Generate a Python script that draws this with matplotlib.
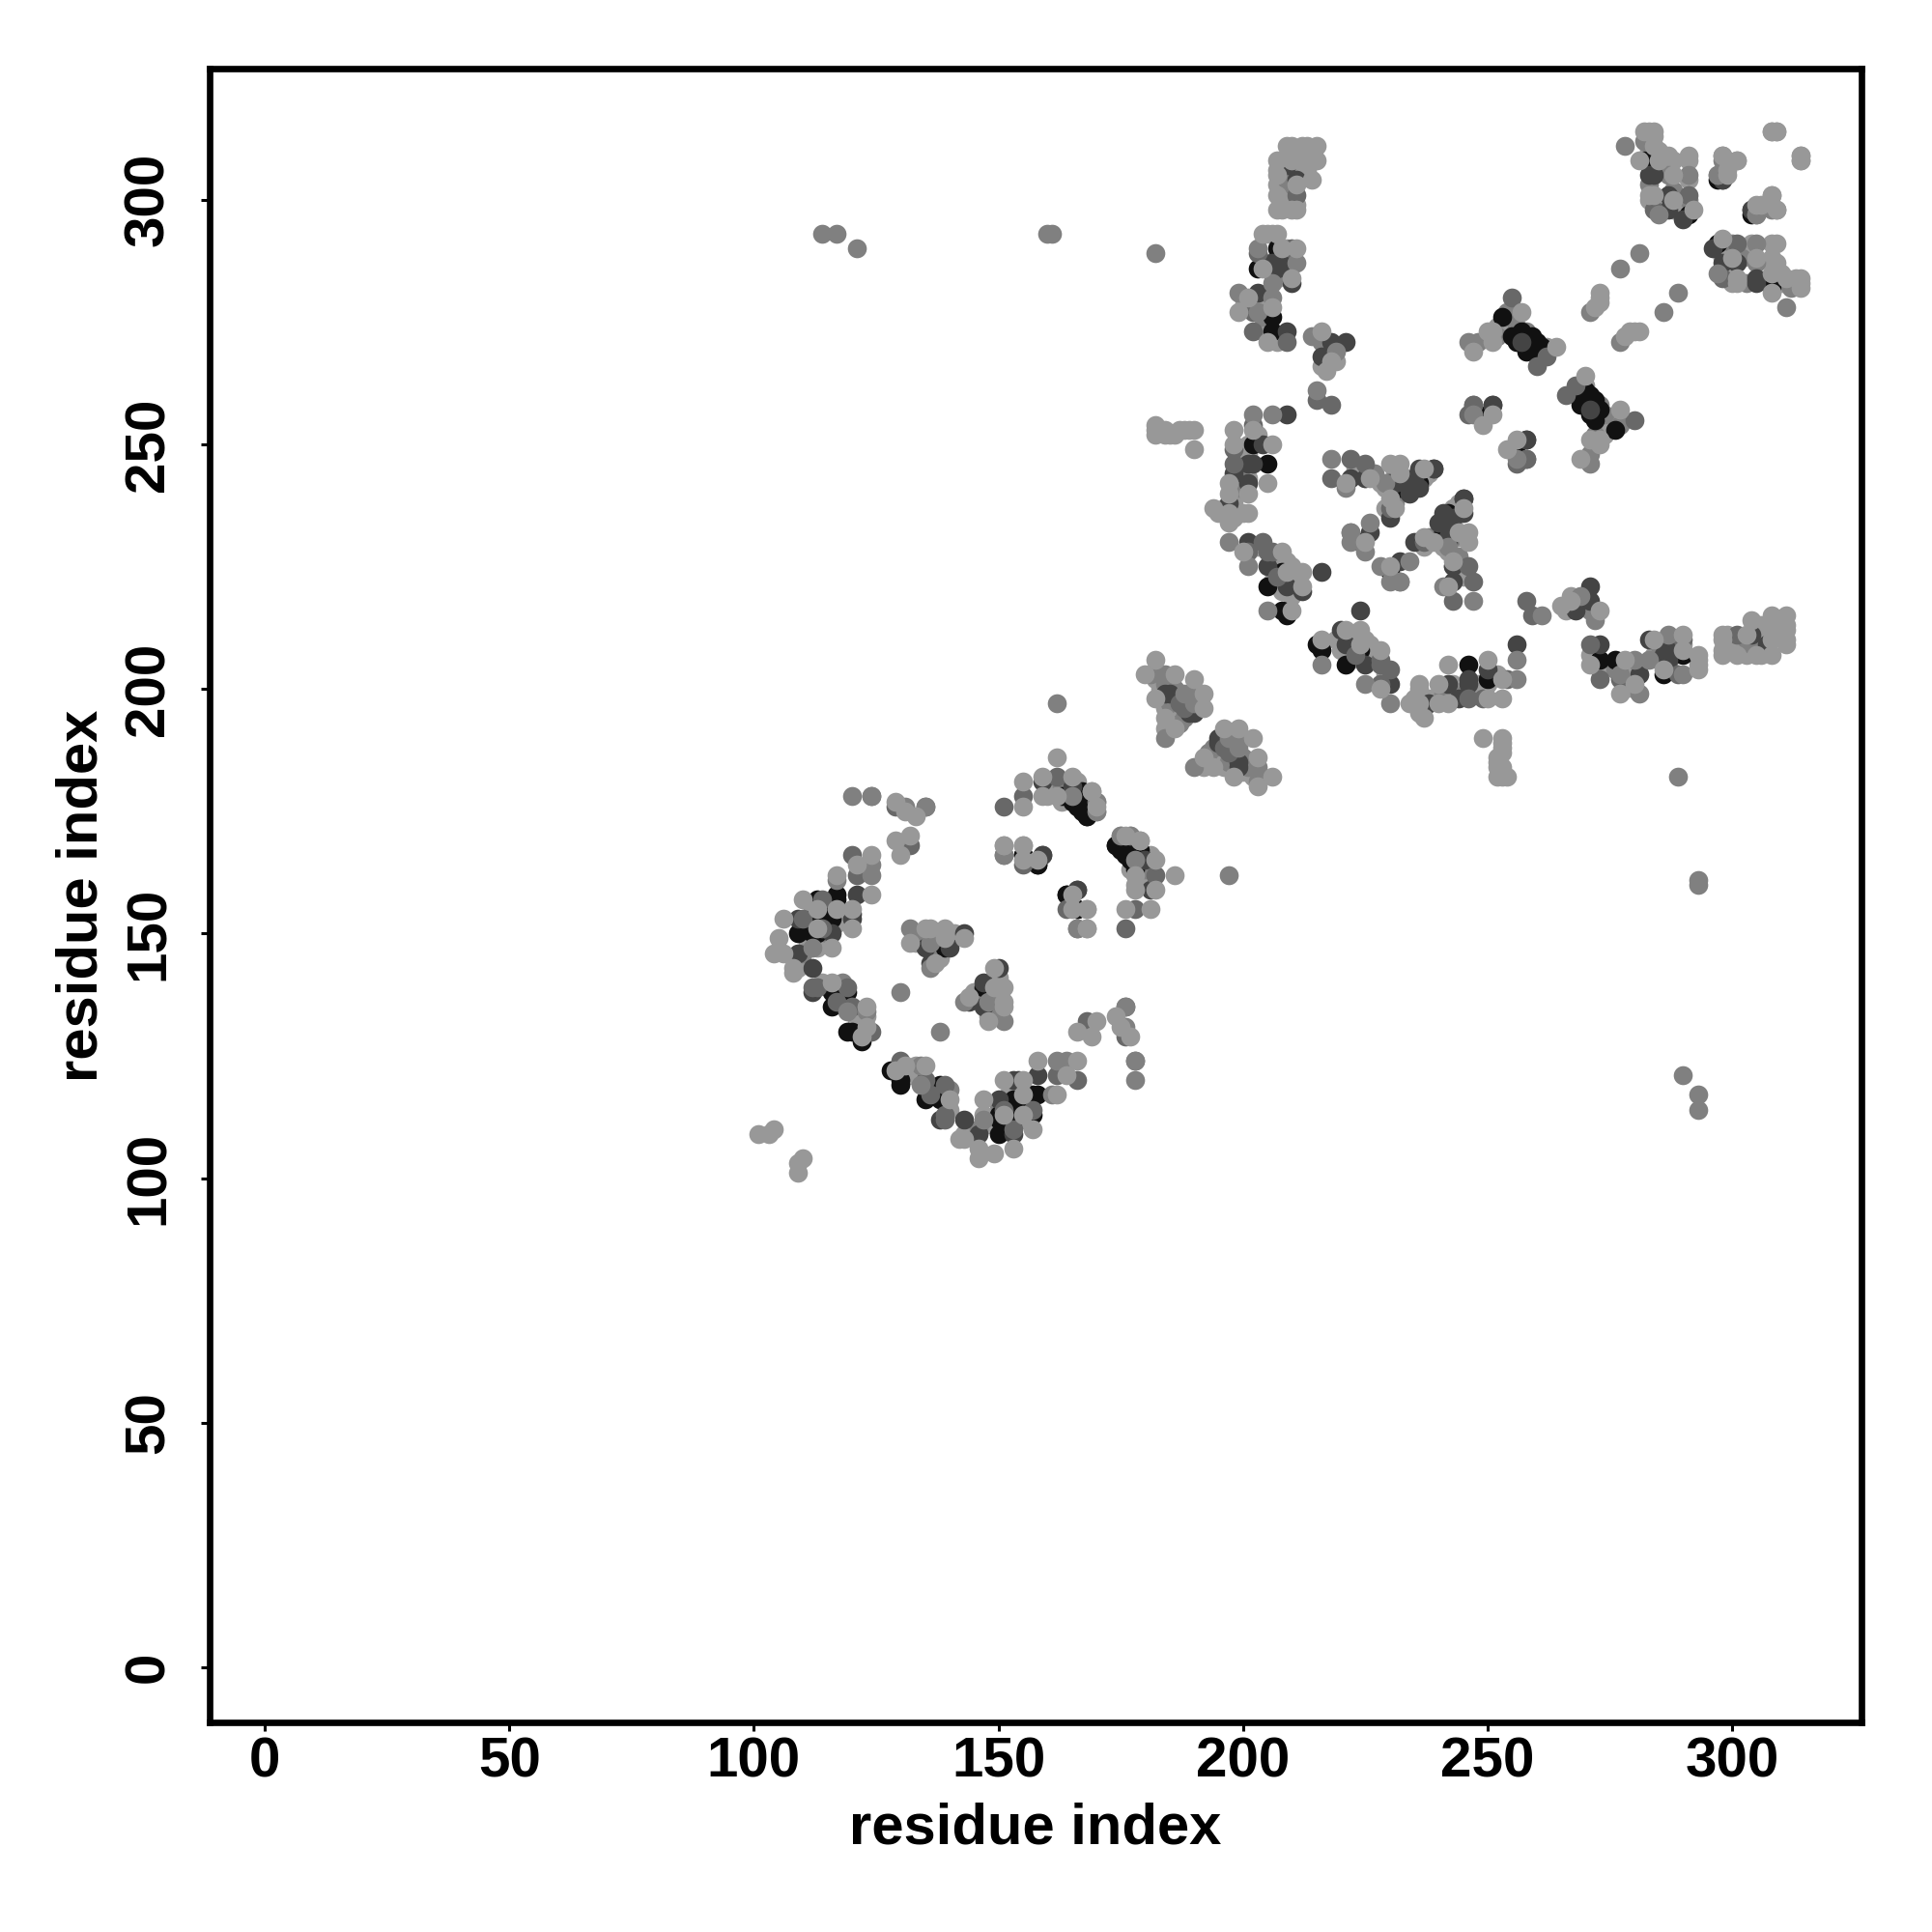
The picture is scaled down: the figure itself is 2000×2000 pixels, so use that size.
import matplotlib
matplotlib.use("Agg")
import matplotlib.pyplot as plt

# contacts (residue i, residue j); the map is symmetric, each pair is drawn on both sides
under_light_pairs = [(283,314),(284,313),(283,312),(287,308),(288,308),(291,308),(291,304),(288,298),(283,300),(285,299),(285,310),(283,310),
    (209,311),(213,311),(211,309),(213,309),(214,308),(211,307),(212,306),(213,306),(209,301),(211,299),(208,298),(207,303),(207,306),
    (205,293),(206,293),(209,289),(210,287),(208,286),(209,290),(207,284),(206,285),(200,280),(200,278),(203,279),(207,271),(208,272),(204,273),
    (196,237),(195,236),(198,240),(198,238),(200,236),(198,235),(199,245),(200,246),(201,250),(203,252),(201,248),(201,243),
    (183,203),(182,202),(183,200),(185,201),(187,199),(184,197),(185,195),(186,195),(190,199),(191,198),(184,196),(186,194),(184,192),
    (112,155),(114,155),(115,152),(117,152),(113,147),(111,148),(110,144),(109,143),(114,140),(117,139),(121,132),(123,133),(123,130),
    (137,150),(141,150),(133,148),(138,145),(166,181),(166,179),(168,178),(169,177),(163,180),
    (175,170),(177,170),(178,169),(179,164),(181,162),(177,163),(178,160),(180,161),
    (232,246),(234,243),(235,243),(237,243),(238,244),(231,245),(229,241),(230,240),(229,237),
    (238,230),(241,229),(244,231),(244,238),(242,228),(243,225),(245,223),
    (203,229),(206,226),(209,226),(210,225),(211,223),(206,222),(208,220),(210,219),
    (254,275),(255,274),(252,274),(253,274),(262,270),(218,269),(219,267),(218,270),(216,266),
    (183,253),(184,253),(186,252),(188,253),(189,253),(182,253),(184,252)]
under_mid_pairs = [(115,150),(110,146),(118,140),(134,150),(138,147),(164,181),(164,179),(167,176),(169,175),
    (177,168),(178,166),(180,163),(209,304),(210,303),(205,287),(209,285),(204,276),(199,243),(199,241),
    (184,201),(186,200),(186,198),(185,197),(189,199),(187,193),(188,194),(231,243),(231,238),(244,227),(241,221),
    (254,277),(256,274),(258,273),(252,272),(217,270),(216,271),(283,303),(287,305),(288,302),(291,300)]
black_pairs = [(117,157),(117,158),(113,157),(116,154),(112,153),(112,150),(109,150),(116,138),(119,138),(116,135),
    (119,130),(120,130),(122,128),(139,147),(163,178),(167,179),(166,176),(168,174),(168,176),(155,166),(158,164),
    (164,158),(166,155),(174,168),(175,167),(177,165),(179,166),(178,168),(113,150),(116,153),(113,153),
    (207,290),(203,286),(206,276),(206,273),(202,250),(205,246),(232,241),(234,241),(236,242),(224,230),
    (205,221),(208,224),(208,216),(209,215),(253,276),(255,272),(259,272),(258,269),(261,270),(261,268),
    (249,255),(250,256),(282,308),(291,297),(297,304),(241,232),(257,273),(256,271),(260,271),(259,270),(260,269)]
dark_pairs = [(121,158),(120,153),(109,153),(116,150),(109,146),(112,143),(112,138),(143,150),(135,147),(140,147),
    (165,180),(159,181),(159,166),(166,159),(120,154),(136,144),
    (209,307),(211,304),(207,286),(210,283),(209,256),(204,250),(202,246),(201,246),(201,242),(198,244),(222,243),
    (225,243),(230,242),(239,245),(226,232),(230,235),(236,241),(234,240),(236,245),(245,239),(201,230),(205,225),
    (209,221),(212,220),(216,224),(197,238),(221,271),(218,271),(216,268),(257,271),(251,258),(258,251),
    (189,195),(190,195),(184,199),(185,199),(283,305),(284,305),(287,301),(287,298),(290,296),(298,304),(304,298),(203,281),
    (209,273),(206,287),(205,286),(209,287),(233,242),(235,241),(242,233),(243,235),(242,231)]
dim_pairs = [(120,166),(121,162),(135,176),(119,139),(120,135),(124,130),(151,176),(151,166),(132,168),(129,176),
    (112,139),(114,157),(110,153),(155,178),(162,182),(155,164),
    (211,301),(202,254),(198,249),(198,246),(225,246),(218,243),(222,247),(215,259),(218,258),(209,271),(204,230),
    (201,228),(247,258),(258,247),(255,280),(260,266),(262,268),(246,256),(284,298),(291,301),
    (178,124),(230,237),(205,228),(202,277),(202,273),(114,151),(113,139),(117,136),(210,290),(203,289),(206,228),(207,223),
    (187,197),(188,196),(188,197)]
mid_pairs = [(120,178),(124,178),(131,176),(112,147),(124,164),(123,134),(119,134),(132,151),(136,148),(136,143),
    (130,138),(165,178),(166,151),(176,135),(170,177),(124,162),(117,161),(170,175),
    (203,290),(211,287),(206,283),(206,280),(199,281),(203,277),(214,272),(219,269),(215,261),(206,256),(202,256),
    (218,247),(197,230),(201,225),(205,216),(222,232),(222,230),(226,234),(228,225),(248,271),(246,271),
    (182,289),(281,289),(277,286),(271,277),(278,311),(282,312),(291,305),(298,309),(297,305),(285,297),(305,297),(308,298),
    (181,203),(184,203),(188,199),(190,197),(184,190),(114,293),(117,293),(121,290),(160,293),(161,293),(162,197),
    (256,247),(229,242),(232,222)]
light_pairs = [(129,177),(133,174),(132,170),(129,169),(130,166),(131,175),(124,166),(121,164),(117,162),(124,158),
    (110,157),(120,155),(117,155),(113,155),(106,153),(113,151),(120,151),(105,149),(116,147),(104,146),(106,146),
    (108,143),(108,142),(116,140),(123,135),(123,131),(122,129),(132,148),(136,151),(135,151),(139,151),(143,149),
    (139,149),(137,144),(155,181),(155,176),(159,182),(159,178),(162,186),(162,178),(165,182),(169,179),
    (151,168),(155,168),(158,165),(165,155),(168,155),(168,151),(176,170),(179,169),(101,109),(103,109),(104,110),
    (210,311),(212,311),(215,311),(210,308),(212,308),(215,308),(207,308),(207,305),(214,304),(211,303),(207,301),
    (207,298),(210,298),(211,298),(204,293),(207,293),(211,290),(208,290),(204,286),(210,284),(201,280),(199,277),
    (206,278),(205,271),(216,273),(218,267),(217,265),(182,254),(182,252),(185,252),(187,253),(190,253),(190,249),
    (198,253),(202,253),(198,250),(206,250),(205,242),(197,242),(201,240),(197,240),(201,236),(194,237),(197,234),
    (221,242),(226,243),(230,246),(232,244),(237,245),(230,239),(225,230),(231,237),
    (208,228),(209,224),(212,224),(212,221),(210,216),(257,277),(251,273),(250,273),(251,271),(247,269),(264,270),
    (251,256),(249,254),(182,206),(180,203),(186,203),(190,202),(182,198),(192,199),(184,194),(186,192),(192,196),
    (284,314),(282,314),(284,311),(281,308),(285,308),(287,309),(291,309),(288,305),(283,301),(284,301),(288,300),
    (292,298),(301,308),(299,306),(308,314),(309,314),(314,308),(314,309),(308,301),(305,299),(309,298),(273,281),
    (273,280),(272,278),(273,279),(200,228),(197,236)]

shades = [(under_light_pairs, "#989898"), (under_mid_pairs, "#808080"),
          (black_pairs, "#111111"), (dark_pairs, "#444444"), (dim_pairs, "#686868"),
          (mid_pairs, "#808080"), (light_pairs, "#989898")]
ticks = [0, 50, 100, 150, 200, 250, 300]

plt.rcParams["font.family"] = ["Liberation Sans"]
plt.rcParams["font.weight"] = "bold"
fig = plt.figure(figsize=(10, 10), dpi=200)
ax = fig.add_axes([170/1568, 1-1398/1568, (1511-170)/1568, (1398-56)/1568])
for pairs, colour in shades:
    xs = [p[0] for p in pairs] + [p[1] for p in pairs]
    ys = [p[1] for p in pairs] + [p[0] for p in pairs]
    ax.scatter(xs, ys, s=50, c=colour, linewidths=0, zorder=3)
ax.set_xlim(-11.3, 326.5)
ax.set_ylim(-11.3, 326.7)
ax.set_xticks(ticks)
ax.set_yticks(ticks)
ax.tick_params(axis="x", length=3.2, width=1.1, labelsize=21, pad=2)
ax.tick_params(axis="y", length=3.2, width=1.1, labelsize=21, pad=9.5)
for t in ax.get_yticklabels():
    t.set_rotation(90)
    t.set_va("center")
for s in ax.spines.values():
    s.set_linewidth(2.4)
ax.set_xlabel("residue index", fontsize=21.5, fontweight="bold", labelpad=5)
ax.set_ylabel("residue index", fontsize=21.5, fontweight="bold", labelpad=5.5)
fig.savefig("out.png", dpi=200, facecolor="white")
